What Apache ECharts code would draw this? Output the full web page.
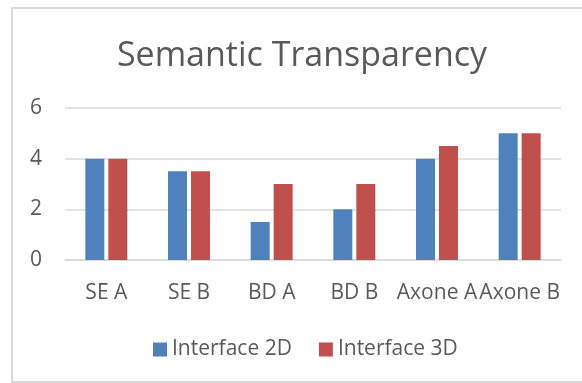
<!DOCTYPE html>
<html>
<head>
<meta charset="utf-8">
<script src="https://cdn.jsdelivr.net/npm/echarts@6/dist/echarts.min.js"></script>
<style>
  html, body { margin: 0; padding: 0; background: #fff; }
  #chart { width: 582px; height: 383px; }
</style>
</head>
<body>
<div id="chart"></div>
<script>
const categories = ["SE A", "SE B", "BD A", "BD B", "Axone A", "Axone B"];
const interface2d = [4, 3.5, 1.5, 2, 4, 5];
const interface3d = [4, 3.5, 3, 3, 4.5, 5];
const yTicks = [0, 2, 4, 6];

const chart = echarts.init(document.getElementById("chart"));
const textColor = "#595959";
const font = "Open Sans";

chart.setOption({
  animation: false,
  textStyle: { fontFamily: font },
  title: {
    text: "Semantic Transparency",
    left: 297,
    textAlign: "center",
    top: 34,
    textStyle: { fontFamily: font, fontSize: 34, fontWeight: "normal", color: textColor },
  },
  graphic: [
    {
      type: "rect",
      shape: { x: 12, y: 8, width: 600, height: 374 },
      style: { fill: "none", stroke: "#d9d9d9", lineWidth: 2 },
      silent: true,
    },
  ],
  legend: {
    left: 148,
    top: 334,
    itemWidth: 14,
    itemHeight: 14,
    itemGap: 27,
    icon: "rect",
    textStyle: { fontFamily: font, fontSize: 21, color: textColor },
    data: ["Interface 2D", "Interface 3D"],
  },
  grid: { left: 65, right: 21, top: 108, bottom: 123 },
  xAxis: {
    type: "category",
    data: categories,
    axisLine: { show: true, lineStyle: { color: "#d9d9d9", width: 1.5 } },
    axisTick: { show: false },
    axisLabel: { color: textColor, fontSize: 21, fontFamily: font, margin: 23, interval: 0 },
  },
  yAxis: {
    type: "value",
    min: yTicks[0],
    max: yTicks[yTicks.length - 1],
    interval: 2,
    axisLine: { show: false },
    axisTick: { show: false },
    axisLabel: { color: textColor, fontSize: 21, fontFamily: font, margin: 23 },
    splitLine: { lineStyle: { color: "#d9d9d9", width: 1.5 } },
  },
  series: [
    {
      name: "Interface 2D",
      type: "bar",
      data: interface2d,
      barWidth: 19,
      barGap: "21%",
      itemStyle: { color: "#4f81bd" },
    },
    {
      name: "Interface 3D",
      type: "bar",
      data: interface3d,
      barWidth: 19,
      itemStyle: { color: "#c0504d" },
    },
  ],
});
</script>
</body>
</html>
